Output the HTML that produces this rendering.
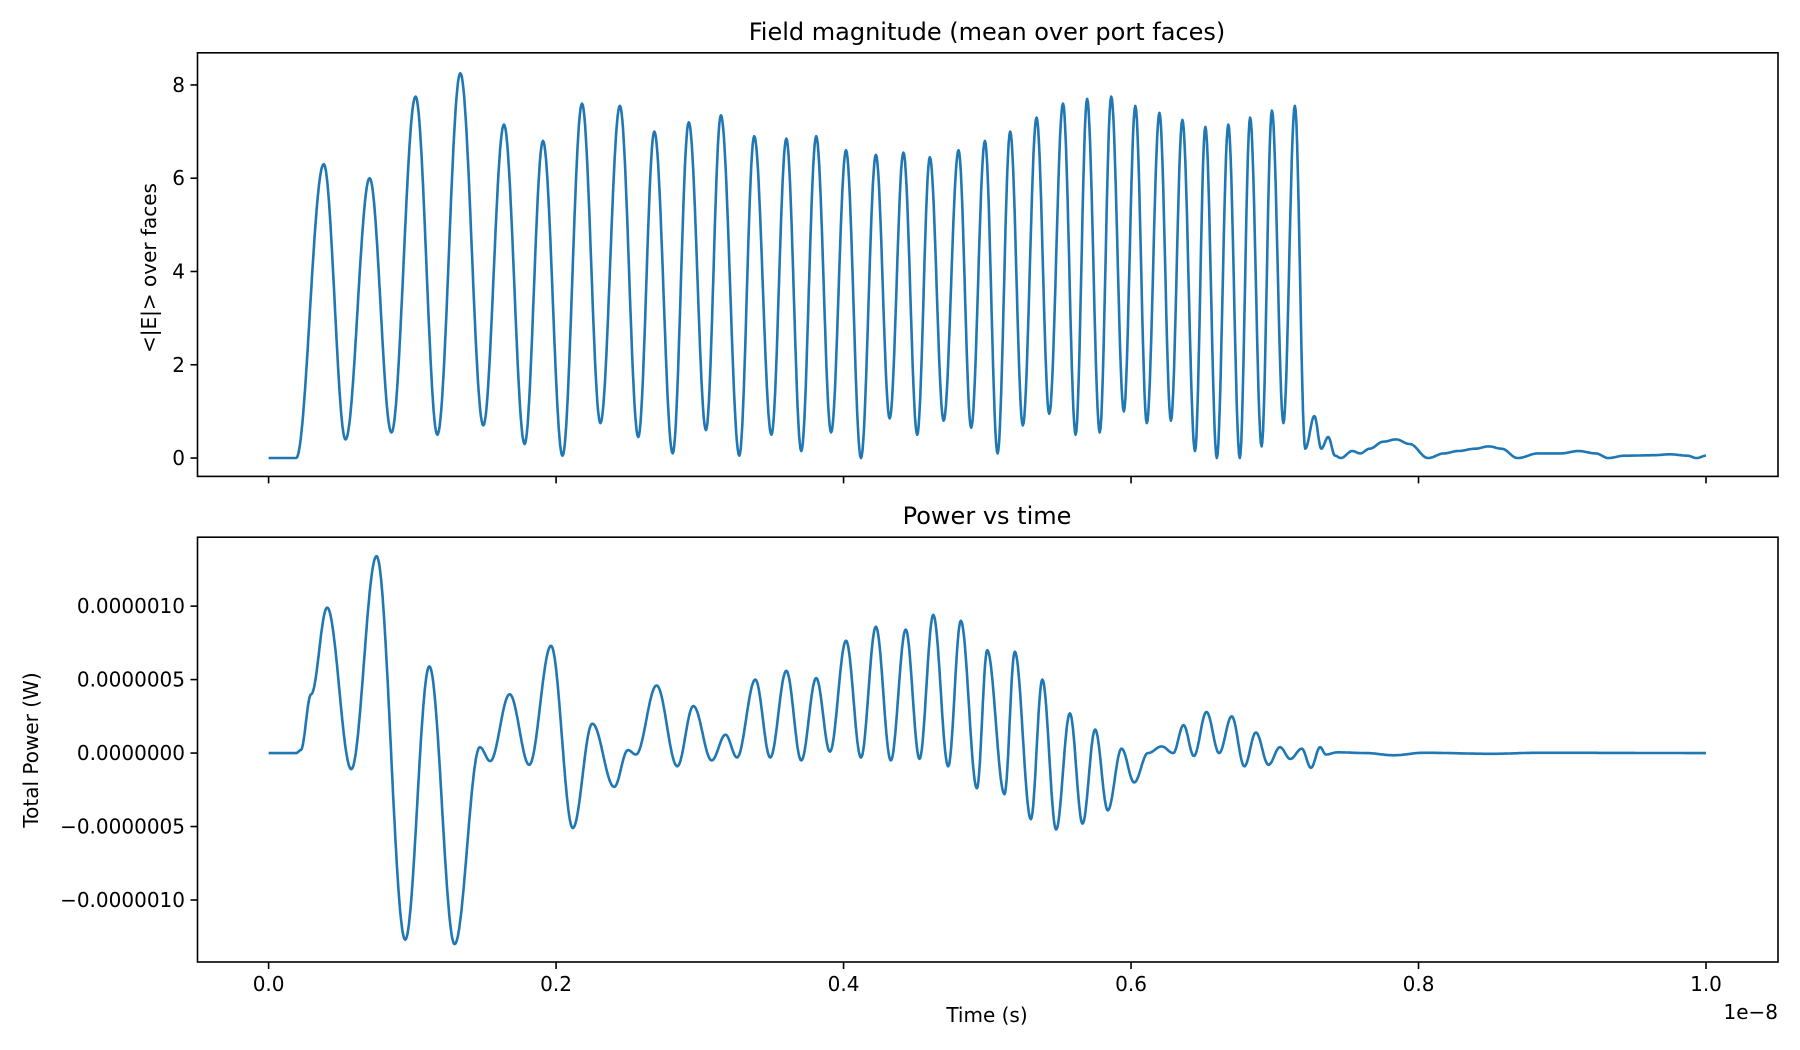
<!DOCTYPE html>
<html><head><meta charset="utf-8"><style>
html,body{margin:0;padding:0;background:#fff;}
svg{display:block;font-family:"DejaVu Sans","Liberation Sans",sans-serif;}
</style></head><body>
<svg id="s" width="1800" height="1050" viewBox="0 0 1800 1050" xmlns="http://www.w3.org/2000/svg">
<rect width="1800" height="1050" fill="#fff"/>
<g id="g"></g>
<text x="987" y="40" font-size="24" text-anchor="middle">Field magnitude (mean over port faces)</text>
<text x="987" y="524" font-size="24" text-anchor="middle">Power vs time</text>
<text x="987" y="1022" font-size="20" text-anchor="middle">Time (s)</text>
<text x="1778" y="1019" font-size="20" text-anchor="end">1e−8</text>
<text transform="translate(156,268) rotate(-90)" font-size="20" text-anchor="middle">&lt;|E|&gt; over faces</text>
<text transform="translate(38,750) rotate(-90)" font-size="20" text-anchor="middle">Total Power (W)</text>
</svg>
<script>
(function(){
var S=1800/1568, NS="http://www.w3.org/2000/svg", g=document.getElementById('g');
function el(t,a,txt){var e=document.createElementNS(NS,t);for(var k in a)e.setAttribute(k,a[k]);if(txt!==undefined)e.textContent=txt;g.appendChild(e);return e;}
var topPts=[[234,0],[258,0],[282,6.3],[301,0.4],[322,6.0],[341,0.55],[362,7.75],[381,0.5],[401,8.25],[421,0.7],[439,7.15],[457,0.3],[473,6.8],[490,0.05],[507,7.6],[523,0.75],[540,7.55],[556,0.45],[570,7.0],[586,0.1],[600,7.2],[615,0.6],[628,7.35],[644,0.05],[657,6.9],[672,0.5],[685,6.85],[698,0.15],[711,6.9],[724,0.55],[737,6.6],[750,0.0],[763,6.5],[775,0.85],[787,6.55],[799,0.5],[810,6.45],[822,0.8],[835,6.6],[846,0.65],[858,6.8],[869,0.1],[880,7.0],[891,0.7],[903,7.3],[914,0.95],[926,7.6],[937,0.5],[947,7.7],[958,0.55],[968,7.75],[979,1.0],[989,7.55],[999,0.75],[1010,7.4],[1020,0.8],[1030,7.25],[1041,0.15],[1050,7.1],[1060,0.0],[1070,7.15],[1080,0.0],[1089,7.3],[1099,0.25],[1108,7.45],[1118,0.75],[1128,7.55],[1137,0.2],[1145,0.9],[1151,0.2],[1157,0.45],[1163,0.05],[1168,0.0],[1178,0.15],[1185,0.1],[1193,0.2],[1205,0.35],[1216,0.4],[1228,0.3],[1244,0.0],[1258,0.1],[1270,0.15],[1285,0.2],[1297,0.25],[1308,0.2],[1322,0.0],[1340,0.1],[1360,0.1],[1375,0.15],[1390,0.1],[1401,0.0],[1415,0.05],[1440,0.06],[1455,0.08],[1470,0.05],[1478,0.0],[1486,0.05]];
var botPts=[[234,0],[258,0],[262,0.2],[271,4.0],[285,9.9],[306,-1.1],[328,13.4],[353,-12.7],[374,5.9],[396,-13.0],[418,0.4],[427,-0.55],[444,4.0],[461,-0.8],[480,7.3],[499,-5.1],[516,2.0],[535,-2.3],[547,0.2],[554,-0.1],[572,4.6],[590,-0.9],[604,3.2],[620,-0.5],[632,1.25],[642,-0.3],[658,5.0],[671,-0.3],[685,5.6],[698,-0.5],[711,5.1],[723,0.1],[737,7.65],[750,-0.3],[763,8.6],[776,-0.5],[789,8.4],[801,-0.4],[813,9.4],[826,-0.9],[837,9.0],[851,-2.4],[860,7.0],[875,-2.8],[884,6.9],[898,-4.5],[908,5.0],[920,-5.2],[932,2.7],[943,-4.8],[954,1.6],[965,-3.9],[977,0.3],[988,-2.0],[1000,0],[1012,0.45],[1022,0],[1031,1.9],[1040,-0.2],[1051,2.8],[1062,0],[1073,2.5],[1084,-0.9],[1094,1.4],[1105,-0.8],[1115,0.4],[1124,-0.4],[1134,0.3],[1142,-1.0],[1150,0.4],[1155,-0.1],[1165,0.05],[1190,0.0],[1214,-0.15],[1240,0.02],[1300,-0.05],[1340,0.02],[1486,0]];
function path(pts,fy){var d='';for(var i=0;i<pts.length-1;i++){var a=pts[i],b=pts[i+1],n=Math.max(2,Math.round((b[0]-a[0])*1.5));for(var j=(i?1:0);j<=n;j++){var u=j/n,x=a[0]+(b[0]-a[0])*u,v=a[1]+(b[1]-a[1])*(1-Math.cos(Math.PI*u))/2;d+=(d?'L':'M')+(x*S).toFixed(1)+','+fy(v).toFixed(1);}}return d;}
el('path',{d:path(topPts,function(v){return (399-v*40.625)*S;}),fill:'none',stroke:'#1f77b4','stroke-width':2.6,'stroke-linejoin':'round'});
el('path',{d:path(botPts,function(v){return (656-v*12.8)*S;}),fill:'none',stroke:'#1f77b4','stroke-width':2.6,'stroke-linejoin':'round'});
el('rect',{x:197.5,y:52.8,width:1580.5,height:423.6,fill:'none',stroke:'#000','stroke-width':1.6});
el('rect',{x:197.5,y:537.2,width:1580.5,height:424.8,fill:'none',stroke:'#000','stroke-width':1.6});
var ax=['0.0','0.2','0.4','0.6','0.8','1.0'];
for(var k=0;k<6;k++){var x=268.6+k*287.48;
 el('line',{x1:x,x2:x,y1:476.4,y2:483.4,stroke:'#000','stroke-width':1.6});
 el('line',{x1:x,x2:x,y1:962,y2:969,stroke:'#000','stroke-width':1.6});
 el('text',{x:x,y:991,'font-size':20,'text-anchor':'middle'},ax[k]);}
for(var k=0;k<=4;k++){var y=(399-k*2*40.625)*S;
 el('line',{x1:190.5,x2:197.5,y1:y,y2:y,stroke:'#000','stroke-width':1.6});
 el('text',{x:185,y:y+7,'font-size':20,'text-anchor':'end'},String(k*2));}
var bl=['−0.0000010','−0.0000005','0.0000000','0.0000005','0.0000010'];
for(var k=0;k<5;k++){var y=(784-k*64)*S;
 el('line',{x1:190.5,x2:197.5,y1:y,y2:y,stroke:'#000','stroke-width':1.6});
 el('text',{x:185,y:y+7,'font-size':20,'text-anchor':'end'},bl[k]);}
})();
</script>
</body></html>
